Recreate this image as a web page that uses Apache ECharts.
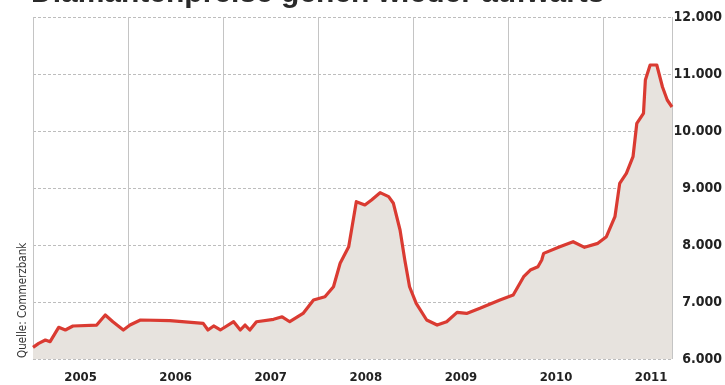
<!DOCTYPE html>
<html>
<head>
<meta charset="utf-8">
<script src="https://cdn.jsdelivr.net/npm/echarts@6/dist/echarts.min.js"></script>
<style>
  html, body { margin: 0; padding: 0; background: #fff; }
  #chart { width: 725px; height: 385px; }
</style>
</head>
<body>
<div id="chart"></div>
<script>
  // time in fractional years, price per point
  var times = [
    2005.00, 2005.06, 2005.13, 2005.18, 2005.27, 2005.34, 2005.42, 2005.67, 2005.76, 2005.84,
    2005.95, 2006.02, 2006.13, 2006.44, 2006.79, 2006.84, 2006.90, 2006.97, 2007.11, 2007.18,
    2007.23, 2007.28, 2007.35, 2007.53, 2007.62, 2007.70, 2007.84, 2007.95, 2008.07, 2008.16,
    2008.23, 2008.32, 2008.40, 2008.49, 2008.56, 2008.65, 2008.74, 2008.79, 2008.86, 2008.91,
    2008.96, 2009.03, 2009.14, 2009.25, 2009.35, 2009.46, 2009.56, 2009.70, 2009.91, 2010.05,
    2010.16, 2010.23, 2010.31, 2010.35, 2010.37, 2010.54, 2010.68, 2010.80, 2010.94, 2011.03,
    2011.12, 2011.17, 2011.24, 2011.31, 2011.35, 2011.42, 2011.44, 2011.49, 2011.56, 2011.62,
    2011.67, 2011.72
  ];
  var prices = [
    6205, 6275, 6333, 6304, 6556, 6509, 6579, 6596, 6772, 6654,
    6509, 6596, 6684, 6672, 6625, 6509, 6579, 6509, 6654, 6509,
    6596, 6509, 6654, 6696, 6740, 6654, 6800, 7035, 7093, 7268,
    7679, 7970, 8760, 8702, 8790, 8918, 8848, 8732, 8263, 7737,
    7268, 6977, 6684, 6596, 6654, 6819, 6800, 6889, 7035, 7123,
    7444, 7561, 7619, 7737, 7853, 7970, 8058, 7959, 8029, 8146,
    8496, 9081, 9257, 9549, 10135, 10310, 10895, 11158, 11158, 10772,
    10544, 10421
  ];
  var yearLabels = ['2005', '2006', '2007', '2008', '2009', '2010', '2011'];
  var titleText = 'Diamantenpreise gehen wieder aufwärts';
  var sourceText = 'Quelle: Commerzbank';

  var seriesData = times.map(function (t, i) { return [t, prices[i]]; });
  var labelFont = '"Liberation Sans Narrow", "DejaVu Sans Condensed", "Roboto", sans-serif';

  var myChart = echarts.init(document.getElementById('chart'));
  var option = {
    backgroundColor: '#ffffff',
    animation: false,
    grid: { left: 33, right: 53, top: 17, bottom: 26 },
    graphic: [
      {
        type: 'text', left: 31, top: -21, silent: true,
        style: { text: titleText, fill: '#2a2a2a', font: 'bold 30px "Liberation Sans", Arial, sans-serif' }
      },
      {
        type: 'text', x: 17, y: 358, rotation: Math.PI / 2, silent: true,
        style: { text: sourceText, fill: '#333', font: '11.5px ' + labelFont }
      }
    ],
    xAxis: [
      {
        type: 'value', min: 2005, max: 2011.72, interval: 0.5,
        axisLine: { show: false }, axisTick: { show: false }, splitLine: { show: false },
        axisLabel: {
          margin: 12, color: '#222', fontWeight: 'bold', fontSize: 13, fontFamily: labelFont,
          showMinLabel: false, showMaxLabel: false,
          formatter: function (v) {
            var r = v - Math.floor(v);
            if (Math.abs(r - 0.5) < 0.01) {
              var idx = Math.floor(v) - 2005;
              return yearLabels[idx] || '';
            }
            return '';
          }
        }
      },
      {
        type: 'value', min: 2005, max: 2011.72, interval: 1,
        axisLine: { show: false }, axisTick: { show: false }, axisLabel: { show: false },
        splitLine: { show: true, lineStyle: { color: '#c4c4c4', width: 1 } }
      }
    ],
    yAxis: {
      type: 'value', position: 'right', min: 6000, max: 12000, interval: 1000,
      axisLine: { show: false }, axisTick: { show: false },
      splitLine: { show: true, lineStyle: { color: '#bdbdbd', type: [3, 2], width: 1 } },
      axisLabel: {
        margin: 50, align: 'right', color: '#222', fontWeight: 'bold', fontSize: 14, fontFamily: labelFont,
        formatter: function (v) { return String(v).replace(/(\d)(?=(\d{3})+$)/, '$1.'); }
      }
    },
    series: [
      {
        type: 'line', xAxisIndex: 0, data: seriesData,
        symbol: 'none', smooth: false,
        lineStyle: { color: '#da3b32', width: 3.2, join: 'round' },
        areaStyle: { color: '#e7e3de', origin: 'start', opacity: 1 },
        z: 3
      }
    ]
  };
  myChart.setOption(option);
</script>
</body>
</html>
